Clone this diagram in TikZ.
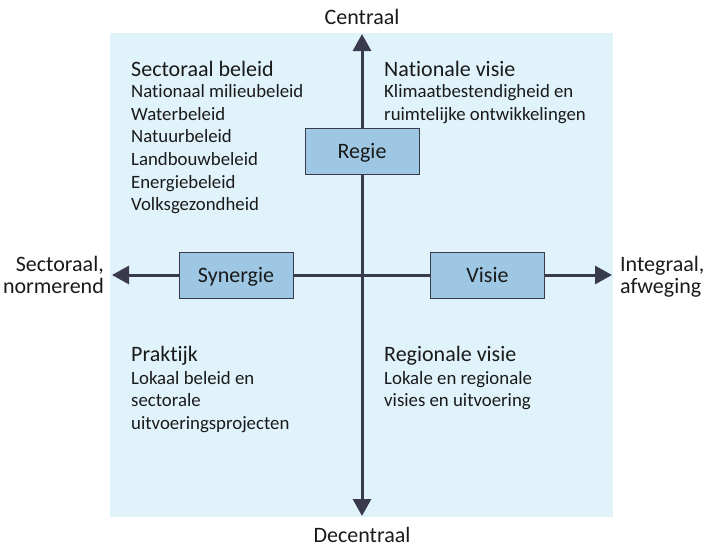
\documentclass[tikz,border=0pt]{standalone}
\usepackage{fontspec}
\setmainfont{Carlito}[Ligatures=NoCommon]
\usetikzlibrary{arrows.meta}
\definecolor{panel}{HTML}{E0F2FA}
\definecolor{boxfill}{HTML}{9DC7E3}
\definecolor{axis}{HTML}{3A3A4E}
\definecolor{ink}{HTML}{1A1A1A}
\tikzset{
  big/.style={font=\fontsize{22}{22.6}\selectfont, text=ink, inner sep=0pt},
  small/.style={font=\fontsize{18.8}{22.6}\selectfont, text=ink, inner sep=0pt},
  axisline/.style={draw=axis, line width=3pt},
  axisarrow/.style={axisline, -{Triangle[length=17pt,width=18pt]}},
  rolebox/.style={draw=axis, line width=1pt, fill=boxfill, minimum width=114pt,
    minimum height=46pt, inner sep=0pt, font=\fontsize{22}{22.6}\selectfont, text=ink,
    text height=14pt, text depth=0pt},
}
\begin{document}
\begin{tikzpicture}[x=1pt,y=-1pt]
  \useasboundingbox (0,0) rectangle (705,547);
  % shaded field
  \fill[panel] (110,33) rectangle (613,517);

  % axis end points and crossing
  \coordinate (O) at (362,275);
  \coordinate (N) at (362,34);
  \coordinate (S) at (362,516);
  \coordinate (W) at (112,275);
  \coordinate (E) at (612,275);

  \draw[axisarrow] (O) -- (N);
  \draw[axisarrow] (O) -- (S);
  \draw[axisarrow] (O) -- (W);
  \draw[axisarrow] (O) -- (E);

  % role boxes on the axes
  \node[rolebox] (regie) at (362,151) {Regie};
  \node[rolebox] (synergie) at (236,275) {Synergie};
  \node[rolebox] (visie) at (487.5,275) {Visie};

  % axis labels (multi-line nodes are placed by the baseline of their last line)
  \node[big, anchor=base] (centraal) at (362,24) {Centraal};
  \node[big, anchor=base] (decentraal) at (362,542) {Decentraal};
  \node[big, anchor=base east, align=right] (sectoraal) at (104,293.6) {Sectoraal,\\normerend};
  \node[big, anchor=base west, align=left] (integraal) at (620,293.6) {Integraal,\\afweging};

  % quadrant texts
  \node[big, anchor=base west] (q1h) at (131,76) {Sectoraal beleid};
  \node[small, anchor=base west, align=left] (q1b) at (131,210.7)
    {Nationaal milieubeleid\\Waterbeleid\\Natuurbeleid\\Landbouwbeleid\\Energiebeleid\\Volksgezondheid};

  \node[big, anchor=base west] (q2h) at (384,76) {Nationale visie};
  \node[small, anchor=base west, align=left] (q2b) at (384,120.3)
    {Klimaatbestendigheid en\\ruimtelijke ontwikkelingen};

  \node[big, anchor=base west] (q3h) at (131,361) {Praktijk};
  \node[small, anchor=base west, align=left] (q3b) at (131,429.2)
    {Lokaal beleid en\\sectorale\\uitvoeringsprojecten};

  \node[big, anchor=base west] (q4h) at (384,361) {Regionale visie};
  \node[small, anchor=base west, align=left] (q4b) at (384,406.6)
    {Lokale en regionale\\visies en uitvoering};
\end{tikzpicture}
\end{document}
